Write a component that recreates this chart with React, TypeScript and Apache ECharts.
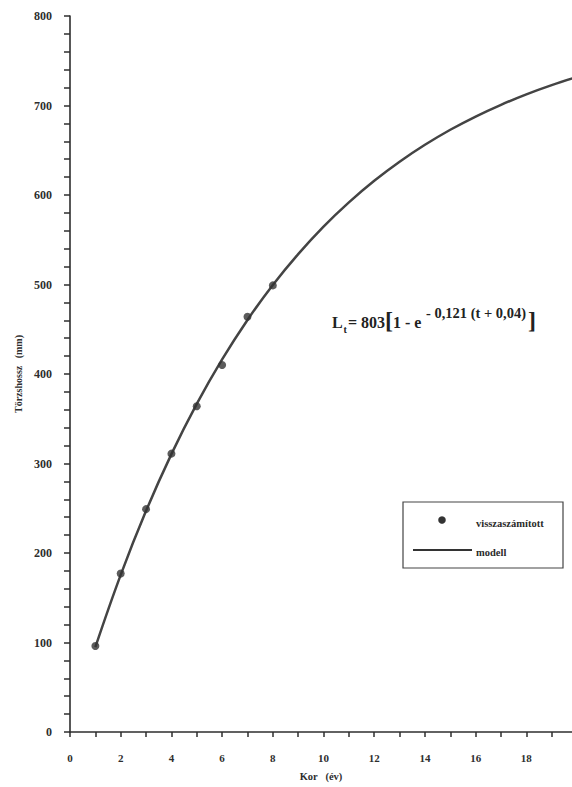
import React, { useEffect, useRef } from "react";
import * as echarts from "echarts";

// Age (years) of back-calculated points and their body length (mm)
const pointAges = [1, 2, 3, 4, 5, 6, 7, 8];
const pointLengths = [96, 177, 249, 311, 364, 410, 464, 499];

// Model curve at whole years
const modelAges = [1, 2, 3, 4, 5, 6, 7, 8, 9, 10, 11, 12, 13, 14, 15, 16, 17, 18, 19, 20];
const modelLengths = [94.9, 175.6, 247.1, 310.5, 366.6, 416.3, 460.4, 499.5, 534.0, 564.7, 591.8, 615.9, 637.2, 656.1, 672.9, 687.7, 700.8, 712.5, 722.8, 731.9];

const xAxisName = "Kor   (év)";
const yAxisName = "Törzshossz   (mm)";
const legendPoints = "visszaszámított";
const legendModel = "modell";

const FONT = "Liberation Serif";
const INK = "#2e2e2e";

export default function App() {
  const ref = useRef<HTMLDivElement>(null);

  useEffect(() => {
    if (!ref.current) return;
    const chart = echarts.init(ref.current, null, { renderer: "svg" });
    const pts = pointAges.map((a, i) => [a, pointLengths[i]]);
    const model = modelAges.map((a, i) => [a, modelLengths[i]]);
    const eq = (size: number) => `bold ${size}px "${FONT}"`;

    chart.setOption({
      animation: false,
      backgroundColor: "#ffffff",
      grid: { left: 70, right: 0, top: 16, bottom: 51, containLabel: false },
      xAxis: {
        type: "value",
        min: 0,
        max: 19.8,
        interval: 1,
        name: xAxisName,
        nameLocation: "middle",
        nameGap: 39,
        nameTextStyle: { fontFamily: FONT, fontWeight: "bold", fontSize: 10.5, color: INK },
        axisLine: { show: true, onZero: false, lineStyle: { color: INK, width: 1.6 } },
        axisTick: { show: true, length: 5, lineStyle: { color: INK, width: 1.5 } },
        splitLine: { show: false },
        axisLabel: {
          margin: 20,
          fontFamily: FONT,
          fontWeight: "bold",
          fontSize: 11,
          color: INK,
          showMaxLabel: false,
          formatter: (v: number) =>
            Math.abs(v - Math.round(v)) < 1e-6 && Math.round(v) % 2 === 0 ? String(Math.round(v)) : "",
        },
      },
      yAxis: {
        type: "value",
        min: 0,
        max: 800,
        interval: 20,
        name: yAxisName,
        nameLocation: "middle",
        nameGap: 37,
        nameRotate: 90,
        nameTextStyle: { fontFamily: FONT, fontWeight: "bold", fontSize: 10, color: INK },
        axisLine: { show: true, onZero: false, lineStyle: { color: INK, width: 1.6 } },
        axisTick: { show: true, length: 6, lineStyle: { color: INK, width: 1.5 } },
        splitLine: { show: false },
        axisLabel: {
          margin: 18,
          fontFamily: FONT,
          fontWeight: "bold",
          fontSize: 12,
          color: INK,
          formatter: (v: number) => (v % 100 === 0 ? String(v) : ""),
        },
      },
      series: [
        {
          name: legendModel,
          type: "line",
          data: model,
          smooth: 0.4,
          showSymbol: false,
          symbol: "none",
          lineStyle: { color: "#444444", width: 2.5 },
          z: 2,
        },
        {
          name: legendPoints,
          type: "scatter",
          data: pts,
          symbol: "circle",
          symbolSize: 8,
          itemStyle: { color: "#333333" },
          z: 3,
        },
      ],
      graphic: [
        // equation
        { type: "text", x: 332, y: 322, style: { text: "L", font: eq(16), fill: "#222", textVerticalAlign: "middle" } },
        { type: "text", x: 343.5, y: 329, style: { text: "t", font: eq(10), fill: "#222", textVerticalAlign: "middle" } },
        { type: "text", x: 348, y: 322, style: { text: "= 803", font: eq(16), fill: "#222", textVerticalAlign: "middle" } },
        { type: "text", x: 385, y: 320, style: { text: "[", font: eq(24), fill: "#222", textVerticalAlign: "middle" } },
        { type: "text", x: 393, y: 322, style: { text: "1 - e", font: eq(16), fill: "#222", textVerticalAlign: "middle" } },
        { type: "text", x: 426, y: 313, style: { text: "- 0,121 (t + 0,04)", font: eq(14.5), fill: "#222", textVerticalAlign: "middle" } },
        { type: "text", x: 528, y: 320, style: { text: "]", font: eq(24), fill: "#222", textVerticalAlign: "middle" } },
        // legend box
        { type: "rect", shape: { x: 403, y: 502, width: 160, height: 66 }, style: { fill: "#ffffff", stroke: "#444", lineWidth: 1.2 } },
        { type: "circle", shape: { cx: 442, cy: 520, r: 3.8 }, style: { fill: "#333" } },
        { type: "text", x: 476, y: 523, style: { text: legendPoints, font: eq(10.5), fill: "#2a2a2a", textVerticalAlign: "middle" } },
        { type: "line", shape: { x1: 413, y1: 550, x2: 472, y2: 550 }, style: { stroke: "#333", lineWidth: 2 } },
        { type: "text", x: 476, y: 552, style: { text: legendModel, font: eq(10.5), fill: "#2a2a2a", textVerticalAlign: "middle" } },
      ],
    });
    return () => chart.dispose();
  }, []);

  return (
    <div
      ref={ref}
      style={{ position: "fixed", left: 0, top: 0, width: 572, height: 787, background: "#fff" }}
    />
  );
}
